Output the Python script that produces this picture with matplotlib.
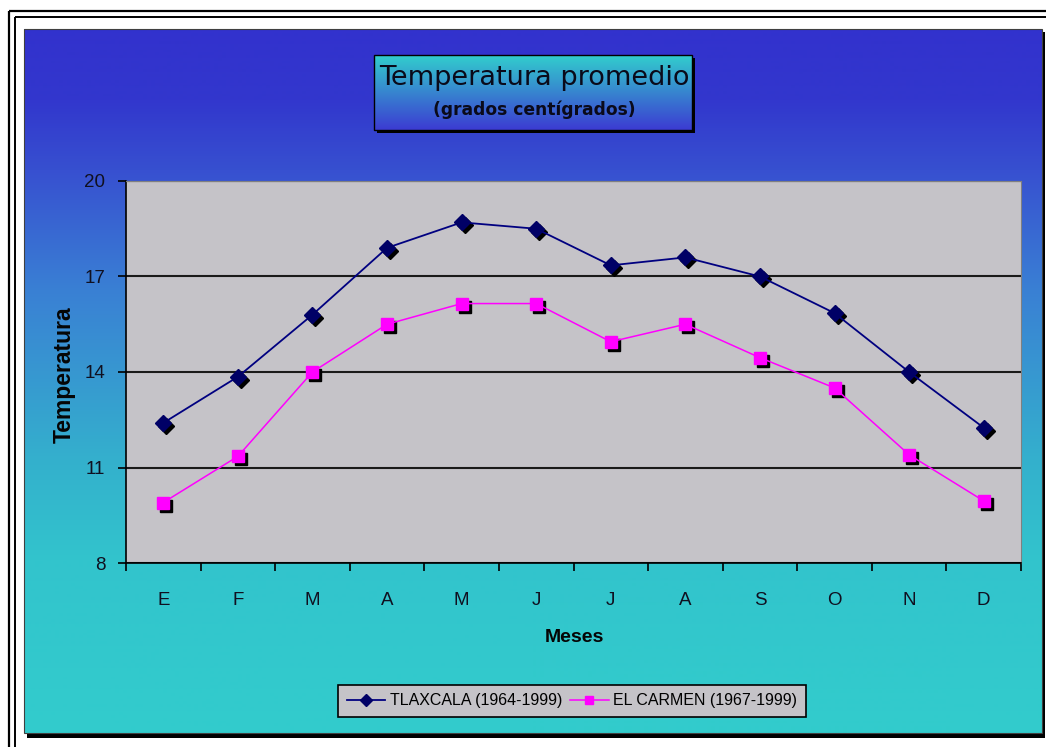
import matplotlib.pyplot as plt
import matplotlib.transforms as mtransforms
from matplotlib.patches import Rectangle
import numpy as np

# data
meses = ['E', 'F', 'M', 'A', 'M', 'J', 'J', 'A', 'S', 'O', 'N', 'D']
tlaxcala = [12.4, 13.85, 15.8, 17.9, 18.7, 18.5, 17.35, 17.6, 17.0, 15.85, 14.0, 12.25]
el_carmen = [9.9, 11.35, 14.0, 15.5, 16.15, 16.15, 14.95, 15.5, 14.45, 13.5, 11.4, 9.95]
lab_tlax = 'TLAXCALA (1964-1999)'
lab_carmen = 'EL CARMEN (1967-1999)'

W, H = 1046, 747
fig = plt.figure(figsize=(W / 100, H / 100), dpi=100)
fig.patch.set_facecolor('white')

# background layer in pixel coords (y down)
bg = fig.add_axes([0, 0, 1, 1])
bg.set_xlim(0, W)
bg.set_ylim(H, 0)
bg.axis('off')

# double frame
bg.add_patch(Rectangle((8.5, 11), 1200, 900, fill=False, ec='black', lw=1.6))
bg.add_patch(Rectangle((14.5, 16.5), 1200, 900, fill=False, ec='black', lw=1.4))

# chart area with shadow + vertical gradient
bg.add_patch(Rectangle((27, 32), 1018, 706, fc='black', ec='none'))
ys = np.arange(29, 734)
stops_y = [29, 100, 170, 290, 460, 560, 733]
r = np.interp(ys, stops_y, [50, 50, 55, 58, 52, 50, 50])
g = np.interp(ys, stops_y, [50, 55, 80, 128, 176, 196, 204])
b = np.interp(ys, stops_y, [205, 205, 208, 212, 205, 204, 204])
grad = np.stack([r, g, b], axis=1)[:, None, :] / 255.0
bg.imshow(grad, extent=(24, 1042, 733, 29), aspect='auto', origin='upper', zorder=1)
bg.add_patch(Rectangle((24, 29), 1018, 704, fill=False, ec='#404040', lw=0.8, zorder=2))

# title box
bg.add_patch(Rectangle((377, 58), 318, 75, fc='black', ec='none', zorder=3))
ty = np.arange(55, 131)
tr = np.interp(ty, [55, 130], [50, 60])
tg = np.interp(ty, [55, 130], [205, 60])
tb = np.interp(ty, [55, 130], [205, 210])
tgrad = np.stack([tr, tg, tb], axis=1)[:, None, :] / 255.0
bg.imshow(tgrad, extent=(374, 692, 130, 55), aspect='auto', origin='upper', zorder=4)
bg.add_patch(Rectangle((374, 55), 318, 75, fill=False, ec='black', lw=1.0, zorder=5))
bg.text(534, 78, 'Temperatura promedio', ha='center', va='center', fontsize=19.5,
        family='DejaVu Sans', color='#0a0a1a', zorder=6)
bg.text(534, 110, '(grados centígrados)', ha='center', va='center', fontsize=12.3,
        family='DejaVu Sans', weight='bold', color='#0a0a1a', zorder=6)

# plot area
ax = fig.add_axes([126 / W, (H - 563) / H, 895 / W, 382 / H])
ax.set_facecolor('#c5c3c8')
x = np.arange(len(meses))
ax.set_xlim(-0.5, len(meses) - 0.5)
ax.set_ylim(8, 20)
ax.set_yticks([8, 11, 14, 17, 20])
ax.yaxis.grid(True, color='#1a1a1a', lw=1.5)
ax.set_axisbelow(True)

ax.set_xticks(np.arange(-0.5, len(meses), 1))
ax.set_xticklabels([])
ax.set_xticks(x, minor=True)
ax.set_xticklabels(meses, minor=True)
ax.tick_params(axis='x', which='major', direction='out', length=6, width=1.2)
ax.tick_params(axis='x', which='minor', length=0, pad=21, labelsize=13.5, labelcolor='#101020')
ax.tick_params(axis='y', direction='out', length=6, width=1.2, pad=9, labelsize=13.5,
               labelcolor='#101020')
for lbl in ax.get_xticklabels(minor=True) + ax.get_yticklabels():
    lbl.set_family('Liberation Sans')

ax.spines['left'].set_color('black')
ax.spines['bottom'].set_color('black')
ax.spines['left'].set_linewidth(1.2)
ax.spines['bottom'].set_linewidth(1.2)
ax.spines['top'].set_color('#808080')
ax.spines['right'].set_color('#808080')

# marker shadows
shadow = mtransforms.offset_copy(ax.transData, fig=fig, x=3, y=-3, units='dots')
ax.plot(x, tlaxcala, 'D', ms=8, color='black', mec='black', transform=shadow, zorder=3)
ax.plot(x, el_carmen, 's', ms=8, color='black', mec='black', transform=shadow, zorder=3)

l1, = ax.plot(x, tlaxcala, '-D', color='#000080', lw=1.3, ms=8, mfc='#000066', mec='#000066',
              zorder=4, label=lab_tlax)
l2, = ax.plot(x, el_carmen, '-s', color='#ff00ff', lw=1.1, ms=8, mfc='#ff00ff', mec='#ff00ff',
              zorder=4, label=lab_carmen)

fig.text(64 / W, 1 - 375 / H, 'Temperatura', rotation=90, ha='center', va='center',
         fontsize=16.5, weight='bold', family='Liberation Sans', color='#050505')
fig.text(574 / W, 1 - 638 / H, 'Meses', ha='center', va='center',
         fontsize=14, weight='bold', family='Liberation Sans', color='#050505')

leg = fig.legend([l1, l2], [lab_tlax, lab_carmen], loc='center',
                 bbox_to_anchor=(572 / W, 1 - 701 / H), ncol=2, frameon=True,
                 fancybox=False, edgecolor='black', facecolor='#c5c3c8', framealpha=1,
                 prop={'family': 'Liberation Sans', 'size': 11.5}, handlelength=2.4,
                 columnspacing=0.5, handletextpad=0.3, borderpad=0.55, markerscale=0.8)
leg.get_frame().set_linewidth(1.2)

fig.savefig('out.png', dpi=100)
